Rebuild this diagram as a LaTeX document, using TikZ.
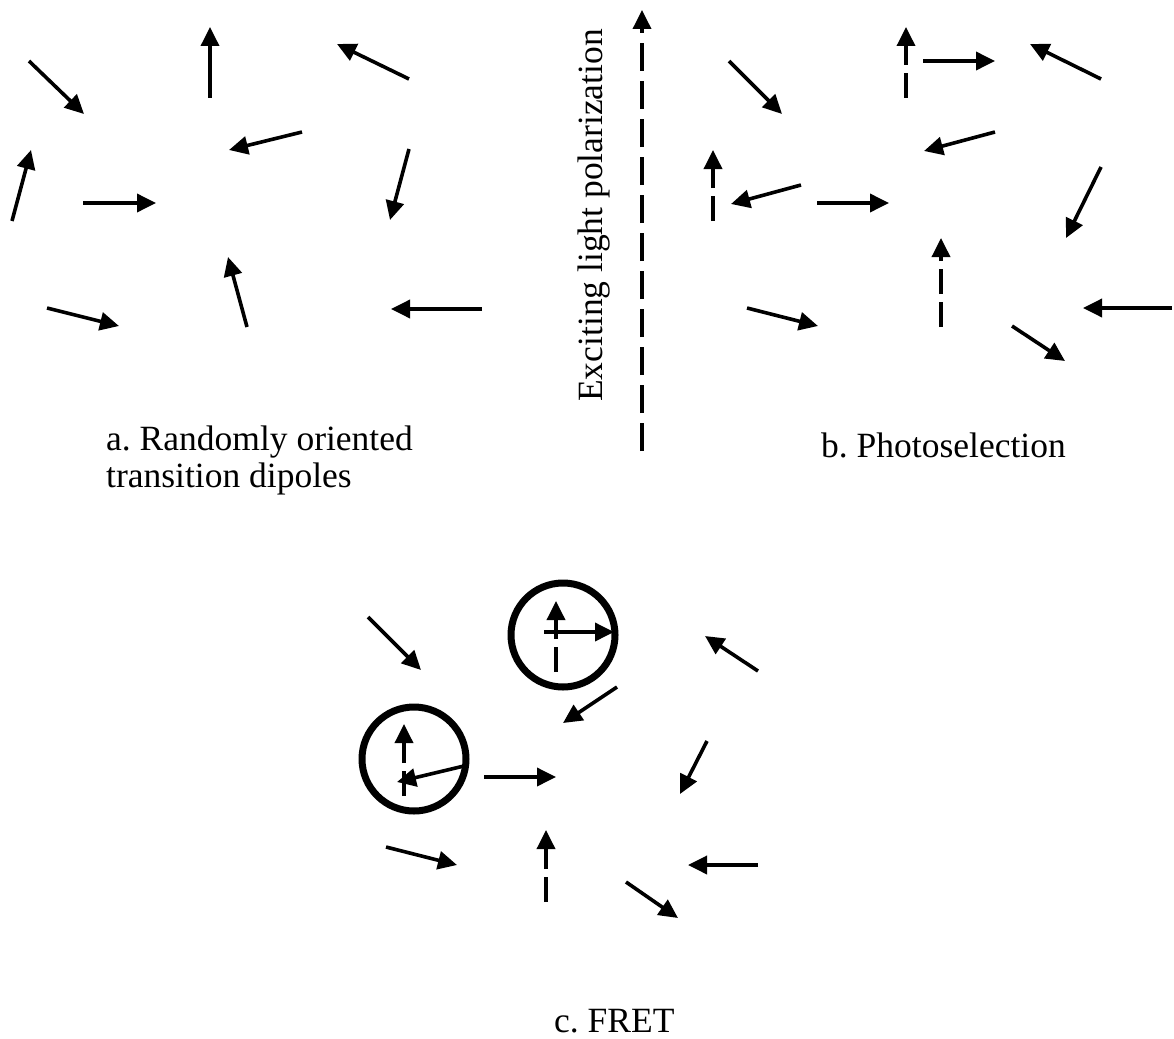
\documentclass[tikz,border=0pt]{standalone}
\usepackage{fontspec}
\setmainfont{Liberation Serif}
\usetikzlibrary{arrows.meta}
\frenchspacing
\begin{document}
\begin{tikzpicture}[x=1pt,y=-1pt,
  dip/.style={line width=3.6pt,-{Triangle[length=19pt,width=18pt]}},
  dipd/.style={dip,dash pattern=on 25pt off 8pt},
  bigd/.style={dip,dash pattern=on 28pt off 10pt},
  ring/.style={line width=7pt},
  captxt/.style={inner sep=0pt,font=\fontsize{35.5}{42}\selectfont}]
\useasboundingbox (0,0) rectangle (1174,1038);
% panel a
\draw[dip] (29,61) -- (84,114);
\draw[dip] (210,98) -- (210,27);
\draw[dip] (409,79) -- (337,44);
\draw[dip] (302,132) -- (229,150);
\draw[dip] (12,221) -- (31,150);
\draw[dip] (83,203) -- (156,203);
\draw[dip] (409,149) -- (390,220);
\draw[dip] (47,308) -- (119,326);
\draw[dip] (247,327) -- (228,257);
\draw[dip] (482,309) -- (391,309);
\node[captxt,anchor=base west] (capa1) at (106,450) {a. Randomly oriented};
\node[captxt,anchor=base west] (capa2) at (106,487) {transition dipoles};
% polarization
\draw[bigd] (642,451) -- (642,10);
\node[captxt,rotate=90,anchor=base west] (pol) at (602,402) {Exciting light polarization};
% panel b
\draw[dip] (729,61) -- (782,114);
\draw[dipd] (906,98) -- (906,27);
\draw[dip] (923,61) -- (995,61);
\draw[dip] (1101,79) -- (1030,44);
\draw[dip] (995,132) -- (924,151);
\draw[dipd] (713,221) -- (713,150);
\draw[dip] (801,185) -- (731,204);
\draw[dip] (817,203) -- (889,203);
\draw[dip] (1101,167) -- (1066,238);
\draw[dipd] (941,327) -- (941,238);
\draw[dip] (747,308) -- (818,326);
\draw[dip] (1012,326) -- (1065,361);
\draw[dip] (1172,308) -- (1083,308);
\node[captxt,anchor=base west] (capb) at (821,457) {b. Photoselection};
% panel c
\draw[dip] (368,617) -- (421,670);
\draw[ring] (563,635) circle[radius=52];
\draw[dipd] (556,672) -- (556,601);
\draw[dip] (544,632) -- (614,632);
\draw[dip] (758,671) -- (705,636);
\draw[dip] (617,687) -- (563,723);
\draw[ring] (414,759) circle[radius=52];
\draw[dipd] (404,796) -- (404,724);
\draw[dip] (464,766) -- (397,782);
\draw[dip] (484,777) -- (556,777);
\draw[dip] (707,741) -- (680,794);
\draw[dip] (386,847) -- (457,865);
\draw[dipd] (546,902) -- (546,830);
\draw[dip] (758,865) -- (688,865);
\draw[dip] (626,882) -- (678,918);
\node[captxt,anchor=base west] (capc) at (554,1032) {c. FRET};
\end{tikzpicture}
\end{document}
